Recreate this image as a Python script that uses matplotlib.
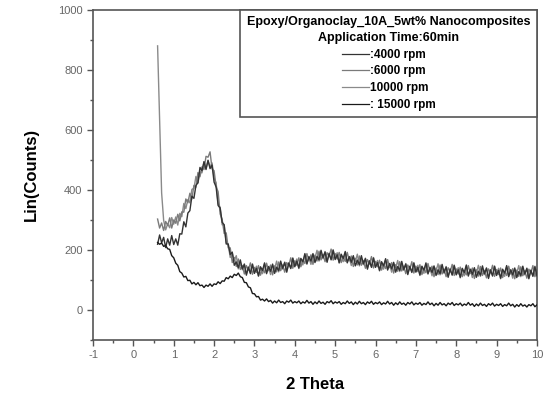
import matplotlib
matplotlib.use('Agg')
import matplotlib.pyplot as plt
import numpy as np
from matplotlib.ticker import MultipleLocator

plt.rcParams['font.family'] = ['Liberation Sans', 'DejaVu Sans']
plt.rcParams['axes.unicode_minus'] = False

# 2 theta grid, 0.60 .. 10.00 in steps of 0.05
two_theta = np.round(np.linspace(0.6, 10.0, 189), 3)

counts_4000 = [
    219, 250, 224, 242, 208, 237, 216, 248, 218, 237, 216, 254, 253, 294, 277, 323, 331, 379, 372, 415,
    424, 475, 464, 494, 468, 499, 471, 483, 426, 410, 348, 340, 292, 284, 220, 220, 185, 193, 149, 160,
    141, 167, 137, 152, 116, 143, 121, 152, 122, 139, 114, 144, 132, 157, 121, 145, 129, 153, 122, 143,
    131, 163, 139, 158, 126, 157, 138, 172, 144, 163, 140, 172, 161, 188, 153, 178, 163, 188, 158, 179,
    167, 199, 174, 193, 159, 189, 167, 199, 168, 184, 158, 186, 172, 195, 157, 178, 159, 181, 147, 166,
    151, 181, 154, 171, 136, 164, 142, 173, 142, 158, 132, 161, 147, 171, 133, 155, 137, 159, 126, 145,
    132, 162, 135, 153, 118, 146, 125, 156, 126, 142, 117, 146, 133, 157, 120, 142, 125, 147, 115, 134,
    121, 152, 125, 143, 109, 137, 116, 148, 117, 134, 109, 139, 125, 150, 113, 136, 119, 141, 109, 129,
    116, 147, 121, 139, 105, 134, 113, 145, 115, 132, 106, 136, 123, 148, 111, 134, 117, 140, 108, 128,
    115, 146, 120, 138, 104, 133, 112, 144, 114]

counts_6000 = [
    303, 273, 290, 265, 295, 282, 307, 273, 300, 289, 319, 297, 327, 326, 370, 357, 389, 370, 415, 409,
    458, 444, 477, 468, 512, 509, 527, 470, 464, 411, 394, 320, 302, 255, 257, 207, 207, 158, 175, 145,
    170, 135, 148, 120, 148, 133, 157, 119, 142, 125, 148, 116, 137, 124, 156, 131, 150, 117, 147, 127,
    160, 131, 150, 126, 158, 147, 174, 139, 164, 149, 174, 144, 166, 155, 188, 164, 184, 152, 183, 163,
    196, 167, 185, 161, 191, 179, 203, 166, 188, 170, 192, 158, 177, 162, 192, 164, 180, 145, 172, 150,
    180, 149, 165, 139, 168, 154, 178, 140, 162, 144, 166, 133, 152, 138, 168, 141, 158, 123, 151, 129,
    161, 130, 146, 121, 150, 136, 161, 123, 146, 128, 151, 118, 138, 124, 155, 128, 146, 111, 140, 118,
    150, 120, 136, 111, 141, 127, 152, 115, 137, 120, 143, 111, 130, 117, 148, 122, 140, 105, 134, 113,
    145, 115, 132, 107, 137, 124, 149, 112, 135, 118, 140, 108, 128, 115, 146, 120, 138, 104, 133, 112,
    144, 114, 131, 106, 136, 123, 148, 111, 134]

counts_10000 = [
    880, 640, 390, 299, 267, 287, 274, 308, 286, 310, 283, 322, 311, 355, 338, 368, 357, 402, 405, 445,
    423, 460, 457, 494, 472, 497, 477, 490, 439, 424, 353, 342, 284, 283, 225, 218, 175, 190, 165, 181,
    137, 155, 134, 154, 120, 138, 124, 154, 128, 146, 112, 141, 121, 153, 124, 142, 118, 149, 137, 163,
    127, 151, 136, 160, 130, 152, 141, 174, 150, 170, 138, 169, 150, 184, 156, 175, 152, 184, 173, 199,
    163, 187, 171, 195, 163, 184, 170, 201, 174, 191, 156, 183, 161, 191, 160, 175, 148, 177, 162, 186,
    147, 169, 151, 173, 140, 159, 145, 175, 148, 165, 130, 158, 136, 167, 136, 152, 126, 155, 141, 165,
    128, 150, 132, 155, 122, 141, 128, 158, 132, 149, 115, 143, 122, 153, 123, 139, 114, 143, 130, 154,
    117, 140, 122, 145, 113, 132, 119, 150, 123, 141, 107, 136, 114, 146, 116, 133, 108, 137, 124, 149,
    112, 135, 118, 141, 109, 129, 116, 147, 121, 139, 104, 133, 112, 144, 114, 131, 106, 136, 123, 148,
    111, 134, 117, 140, 108, 128, 115, 146, 120]

counts_15000 = [
    225, 219, 223, 212, 215, 204, 202, 181, 174, 156, 149, 128, 123, 110, 112, 98, 99, 87, 92, 84,
    91, 81, 83, 75, 83, 79, 87, 79, 87, 85, 94, 88, 97, 96, 108, 104, 113, 108, 119, 115,
    123, 111, 108, 92, 91, 77, 74, 55, 54, 44, 45, 33, 36, 30, 37, 28, 32, 23, 30, 24,
    33, 25, 28, 21, 30, 26, 33, 23, 28, 24, 30, 21, 27, 23, 32, 23, 28, 19, 27, 21,
    30, 22, 26, 19, 28, 24, 31, 21, 27, 23, 28, 19, 25, 21, 30, 22, 27, 18, 26, 20,
    29, 21, 25, 18, 27, 22, 29, 19, 25, 21, 27, 18, 24, 20, 29, 20, 25, 16, 24, 18,
    27, 19, 23, 16, 25, 20, 27, 17, 23, 19, 25, 16, 22, 18, 27, 18, 23, 14, 22, 16,
    25, 17, 21, 14, 23, 18, 25, 15, 21, 17, 23, 14, 20, 16, 25, 16, 21, 12, 20, 14,
    23, 15, 19, 12, 21, 16, 23, 13, 19, 15, 21, 12, 18, 14, 23, 14, 19, 10, 18, 12,
    21, 13, 17, 10, 18, 14, 21, 11, 17]

series = [(counts_4000, ':4000 rpm', '#333333', 3),
          (counts_6000, ':6000 rpm', '#7a7a7a', 2),
          (counts_10000, '10000 rpm', '#8a8a8a', 1),
          (counts_15000, ': 15000 rpm', '#1a1a1a', 4)]

fig = plt.figure(figsize=(5.44, 3.94), dpi=100)
ax = fig.add_axes([0.171, 0.137, 0.816, 0.838])

for vals, label, col, z in series:
    ax.plot(two_theta, vals, color=col, lw=1.0, label=label, zorder=z)

ax.set_xlim(-1, 10)
ax.set_ylim(-100, 1000)
ax.xaxis.set_major_locator(MultipleLocator(1))
ax.xaxis.set_minor_locator(MultipleLocator(0.5))
ax.yaxis.set_minor_locator(MultipleLocator(100))
ax.set_yticks([0, 200, 400, 600, 800, 1000])
ax.tick_params(which='major', direction='out', length=4, width=1,
               labelsize=8, colors='#555555', labelcolor='#666666')
ax.tick_params(which='minor', direction='out', length=2.5, width=1, colors='#555555')
for sp in ax.spines.values():
    sp.set_color('#555555')
    sp.set_linewidth(1.2)

ax.set_xlabel('2 Theta', fontsize=12, fontweight='bold', labelpad=12)
ax.set_ylabel('Lin(Counts)', fontsize=12, fontweight='bold', labelpad=14)

leg = ax.legend(loc='upper right', borderaxespad=0, fancybox=False,
                title='Epoxy/Organoclay_10A_5wt% Nanocomposites\nApplication Time:60min',
                title_fontproperties={'weight': 'bold', 'size': 9},
                prop={'weight': 'bold', 'size': 8.5}, alignment='center',
                handlelength=2.3, handletextpad=0.1, labelspacing=0.4,
                borderpad=0.55, framealpha=1)
leg.get_title().set_multialignment('center')
leg.get_title().set_linespacing(1.4)
leg.get_frame().set_edgecolor('#555555')
leg.get_frame().set_linewidth(1.2)
for line in leg.get_lines():
    line.set_linewidth(0.9)

fig.savefig('out.png', dpi=100)
